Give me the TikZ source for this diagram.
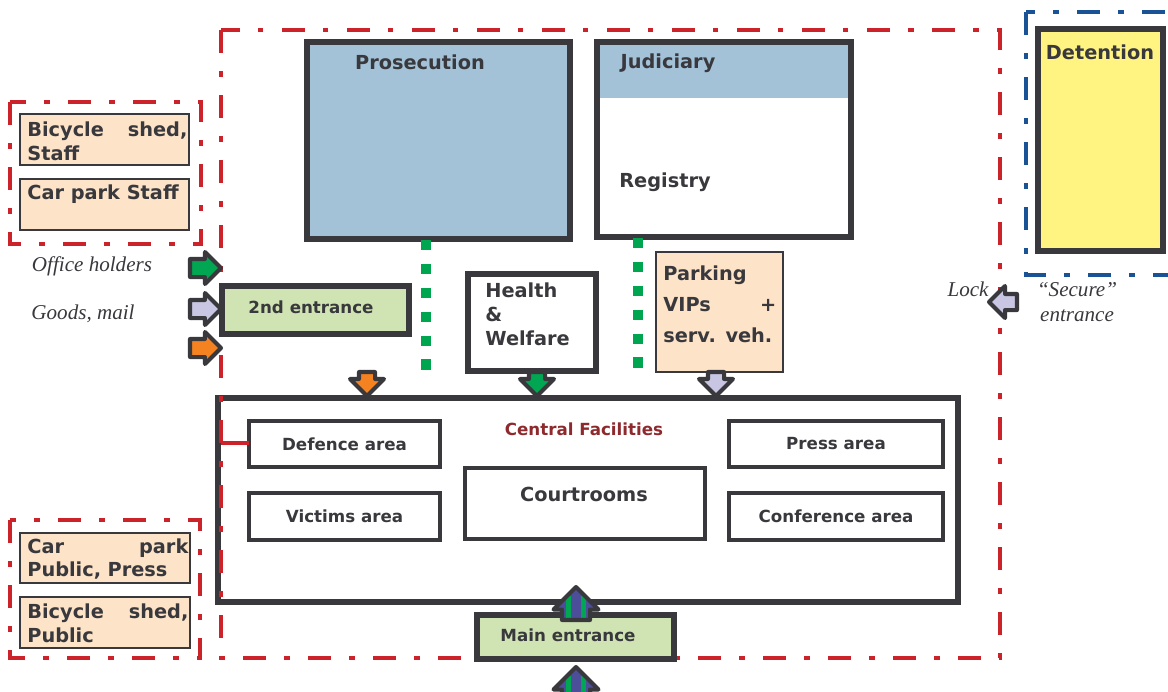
\documentclass[tikz,border=0pt]{standalone}
\usepackage{fontspec}
\setmainfont{DejaVu Sans}
\newfontfamily\notefont{Liberation Serif}
\usetikzlibrary{shapes.arrows}

\definecolor{ink}{HTML}{38383D}
\definecolor{framered}{HTML}{CC2229}
\definecolor{frameblue}{HTML}{1A5296}
\definecolor{prosblue}{HTML}{A3C1D7}
\definecolor{peach}{HTML}{FDE3C7}
\definecolor{entrygreen}{HTML}{D0E3B3}
\definecolor{detyellow}{HTML}{FFF382}
\definecolor{dotgreen}{HTML}{00A54F}
\definecolor{arrgreen}{HTML}{00A651}
\definecolor{arrlav}{HTML}{C8C6E2}
\definecolor{arrorange}{HTML}{F58220}
\definecolor{arrpurple}{HTML}{4D4E9A}
\definecolor{facred}{HTML}{8E2A2E}

\tikzset{
  boxsize/.style 2 args={minimum width=#1*0.02cm, minimum height=#2*0.02cm},
  room/.style={draw=ink, line width=3.4pt, fill=white, anchor=north west, inner sep=0pt, outer sep=0pt},
  area/.style={room, line width=2.8pt, font=\fontsize{9.5}{11}\selectfont\bfseries, text=ink},
  peachbox/.style={draw=ink, line width=0.9pt, fill=peach, anchor=north west, inner sep=0pt, outer sep=0pt},
  bigtxt/.style={font=\fontsize{11}{13.6}\selectfont\bfseries, text=ink, inner sep=0pt},
  smalltxt/.style={font=\fontsize{9.5}{11}\selectfont\bfseries, text=ink, inner sep=0pt},
  notetxt/.style={font={\fontsize{12}{14.7}\notefont\itshape}, text=ink, inner sep=0pt},
  redframe/.style={draw=framered, line width=2.8pt, dash pattern=on 13pt off 10.5pt on 3pt off 10.5pt},
  blueframe/.style={draw=frameblue, line width=2.8pt, dash pattern=on 13pt off 10.5pt on 3pt off 10.5pt},
  greendots/.style={draw=dotgreen, line width=6.2pt, dash pattern=on 5.7pt off 7.9pt},
  flow/.style={single arrow, draw=ink, line width=2.3pt, line join=round, anchor=tail, outer sep=0pt,
    inner xsep=0pt, inner ysep=0.14cm, single arrow head extend=0.14cm,
    minimum height=0.62cm, minimum width=0pt},
  downflow/.style={flow, rotate=-90, inner ysep=0.12cm, single arrow head extend=0.18cm, minimum height=0.48cm},
  upflow/.style={flow, rotate=90, inner ysep=0.24cm, single arrow head extend=0.17cm, minimum height=0.66cm}
}

\begin{document}
\begin{tikzpicture}[x=0.02cm,y=-0.02cm]
%\draw[thin,dotted] (0,0) grid[step=50] (1168,691);
\useasboundingbox (0,0) rectangle (1168,691);

% parking groups and detention zone
\draw[redframe] (10,102) rectangle (201,244);
\draw[redframe] (10,520) rectangle (200,658);
\draw[blueframe] (1026,12) rectangle (1190,275);

\node[peachbox, boxsize={169}{51}] (bikestaff) at (20,114) {};
\node[bigtxt, anchor=west, text width=160*0.02cm] (bikestafftxt) at (27,141) {Bicycle\hfill shed,\\Staff};
\node[peachbox, boxsize={169}{51}] (carstaff) at (20,179) {};
\node[bigtxt, anchor=west] (carstafftxt) at (27,194) {Car park Staff};
\node[peachbox, boxsize={170}{50}] (carpublic) at (20,533) {};
\node[bigtxt, anchor=west, text width=161*0.02cm] (carpublictxt) at (27,559) {Car\hfill park\\Public, Press};
\node[peachbox, boxsize={170}{51}] (bikepublic) at (20,597) {};
\node[bigtxt, anchor=west, text width=161*0.02cm] (bikepublictxt) at (27,623) {Bicycle\hfill shed,\\Public};

\node[room, fill=detyellow, boxsize={125}{222}] (detention) at (1038,29) {};
\node[bigtxt] (detentiontxt) at (1100,52) {Detention};

% offices
\node[room, fill=prosblue, boxsize={263}{197}] (prosecution) at (307,42) {};
\node[bigtxt] (prosecutiontxt) at (420,62) {Prosecution};
\node[room, boxsize={254}{195},
  path picture={\fill[prosblue] (path picture bounding box.north west) rectangle ([yshift=-1.12cm]path picture bounding box.north east);}] (judiciary) at (597,42) {};
\node[bigtxt] (judiciarytxt) at (668,63) {Judiciary};
\node[bigtxt] (registrytxt) at (665,182) {Registry};

\coordinate (prosdot) at (426,240);
\coordinate (prosdotend) at (426,372);
\coordinate (regdot) at (638,238);
\coordinate (regdotend) at (638,372);
\draw[greendots] (prosdot) -- (prosdotend);
\draw[greendots] (regdot) -- (regdotend);

\node[room, boxsize={128}{97}] (health) at (468,274) {};
\node[bigtxt, anchor=west, align=left] (healthtxt) at (485,314) {Health\\\&\\Welfare};
\node[peachbox, boxsize={127}{120}] (parking) at (656,252) {};
\node[bigtxt, anchor=west, text width=113*0.02cm, font=\fontsize{11}{17.6}\selectfont\bfseries] (parkingtxt) at (663,304) {Parking\\VIPs\hfill +\\serv. veh.};

% central facilities
\node[room, boxsize={740}{204}] (central) at (218,398) {};
\node[smalltxt, text=facred] (centraltxt) at (584,429) {Central Facilities};

\draw[redframe] (221,30) rectangle (1000,658);
\coordinate (framejoin) at (221,443);

\node[area, boxsize={191}{46}] (defence) at (249,421) {Defence area};
\node[area, boxsize={191}{47}] (victims) at (249,493) {Victims area};
\node[area, boxsize={214}{46}] (press) at (729,421) {Press area};
\node[area, boxsize={214}{47}] (conference) at (729,493) {Conference area};
\node[area, boxsize={240}{71}] (courtrooms) at (465,468) {};
\node[bigtxt] (courtroomstxt) at (584,494) {Courtrooms};
\draw[framered, line width=2.8pt] (framejoin) -- (framejoin -| defence.west);

% entrances
\node[room, fill=entrygreen, boxsize={187}{48}] (second) at (222,286) {};
\node[smalltxt] (secondtxt) at (311,307) {2nd entrance};
\node[room, fill=entrygreen, boxsize={197}{44}] (mainentr) at (477,615) {};
\node[smalltxt] (mainentrtxt) at (568,635) {Main entrance};

\node[flow, fill=arrgreen] (holders) at (190,268) {};
\node[flow, fill=arrlav] (goods) at (190,309) {};
\node[flow, fill=arrorange] (other) at (190,348) {};
\node[downflow, fill=arrorange] (downdef) at (367,372) {};
\node[downflow, fill=arrgreen] (downhealth) at (537,372) {};
\node[downflow, fill=arrlav] (downpark) at (716,372) {};
\node[flow, rotate=180, fill=arrlav, inner ysep=0.12cm, single arrow head extend=0.16cm, minimum height=0.56cm] (lock) at (1017,302) {};

\node[upflow, fill=arrpurple, draw=none] (upinfill) at (576,620) {};
\fill[arrgreen] (566,596) rectangle (571,620);
\fill[arrgreen] (581,596) rectangle (586,620);
\node[upflow, fill=none] (upin) at (576,620) {};
\node[upflow, fill=arrpurple, draw=none] (upoutfill) at (576,700) {};
\fill[arrgreen] (566,676) rectangle (571,700);
\fill[arrgreen] (581,676) rectangle (586,700);
\node[upflow, fill=none] (upout) at (576,700) {};

% notes
\node[notetxt] (holderstxt) at (92,266) {Office holders};
\node[notetxt] (goodstxt) at (83,314) {Goods, mail};
\node[notetxt] (locktxt) at (968,289) {Lock};
\node[notetxt, align=center] (securetxt) at (1077,302) {“Secure”\\entrance};
\end{tikzpicture}
\end{document}
